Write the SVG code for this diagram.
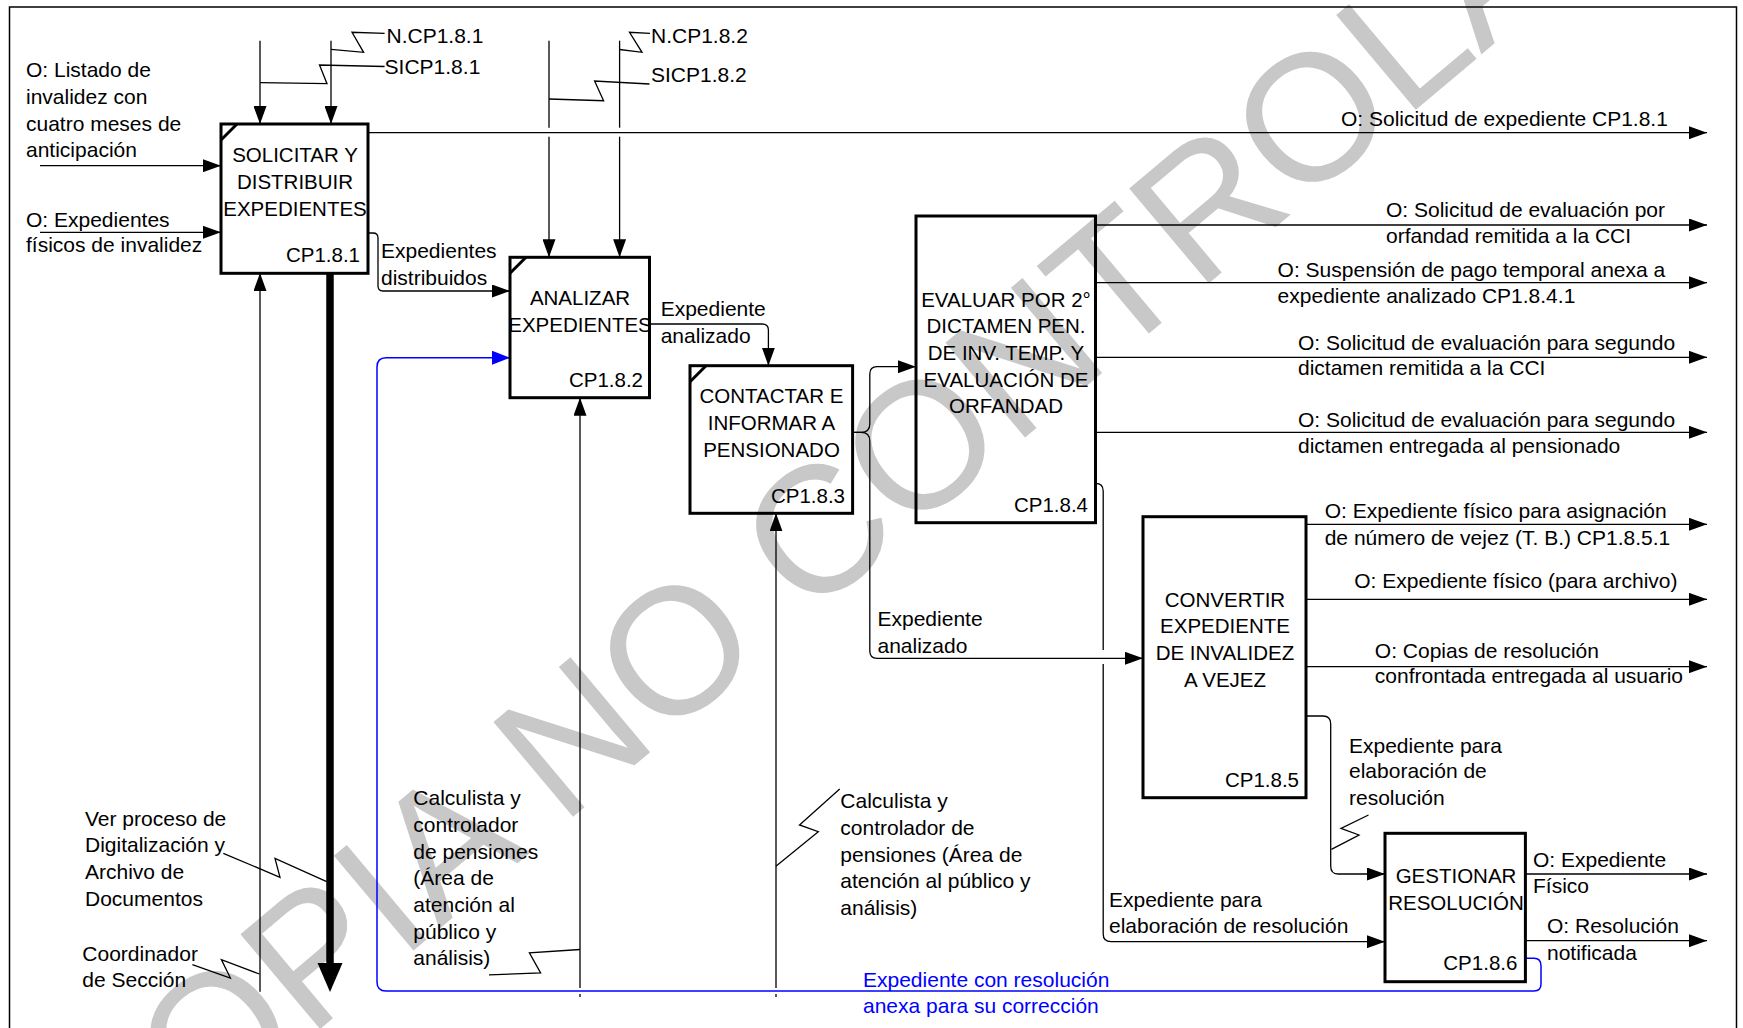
<svg xmlns="http://www.w3.org/2000/svg" width="1743" height="1028" viewBox="0 0 1743 1028">
<defs>
<style>
.box{fill:none;stroke:#000;stroke-width:3}
.tick{fill:none;stroke:#000;stroke-width:3}
.ln{fill:none;stroke:#000;stroke-width:1.3}
.arr{marker-end:url(#ah)}
.blue{fill:none;stroke:#0000ff;stroke-width:1.5;marker-end:url(#ahb)}
text{font-family:"Liberation Sans",Arial,sans-serif;font-size:21px;fill:#000}
.bt{font-size:20.5px;text-anchor:middle}
.id{font-size:20.5px;text-anchor:end}
.bl{fill:#0000ff}
.wm{font-size:180px;fill:#c8c8c8}
</style>
<marker id="ah" markerUnits="userSpaceOnUse" markerWidth="18" markerHeight="13" refX="18" refY="6.5" orient="auto" viewBox="0 0 18 13"><path d="M0,0 L18,6.5 L0,13 z" fill="#000"/></marker>
<marker id="ahb" markerUnits="userSpaceOnUse" markerWidth="18" markerHeight="14" refX="18" refY="7" orient="auto" viewBox="0 0 18 14"><path d="M0,0 L18,7 L0,14 z" fill="#0000ff"/></marker>
</defs>
<rect width="1743" height="1028" fill="#fff"/>
<text class="wm" x="102" y="1212" transform="rotate(-40 102 1212)">COPIA NO CONTROLADA</text>
<path d="M9.5,1030 V7 H1736.5 V1030" fill="none" stroke="#000" stroke-width="1.5"/>

<g id="connectors">
<path class="ln arr" d="M40,165.7 H221"/>
<path class="ln arr" d="M40,232.3 H221"/>
<path class="ln arr" d="M260,40.7 V124"/>
<path class="ln arr" d="M331,40.7 V124"/>
<path class="ln" d="M260,82.7 L327,83.7 L319.5,65 L384.6,66.5"/>
<path class="ln" d="M331,49.3 L363.6,52.3 L352,32.3 L384.6,33.3"/>
<path class="ln arr" d="M368,132.7 H1707"/>
<path class="ln arr" d="M368,233 H373 Q378,233 378,238 V286 Q378,291 383,291 H510"/>
<path class="ln" d="M549,40.7 V127.7"/>
<path class="ln arr" d="M549,136.7 V257.3"/>
<path class="ln" d="M619.6,40.7 V127.7"/>
<path class="ln arr" d="M619.6,136.7 V257.3"/>
<path class="ln" d="M619.6,49.5 L642,52.3 L629.5,32.3 L650,33.3"/>
<path class="ln" d="M549,99 L603.6,100.7 L594.6,81 L649.5,84"/>
<path class="ln arr" d="M260,991.7 V273"/>
<path d="M330,273 V965" stroke="#000" stroke-width="7.5" fill="none"/>
<path d="M317.5,963 L342.5,963 L330,992 z" fill="#000"/>
<path class="ln" d="M223.3,853.3 L280,877.3 L275,858.3 L326.7,881.7"/>
<path class="ln" d="M192.4,964.6 L230.4,978 L221.4,959.6 L259.4,974"/>
<path class="ln" d="M580,997 V994"/>
<path class="ln arr" d="M580,988 V397.7"/>
<path class="ln" d="M489,974.8 L540.6,973 L529.4,952.9 L580,949.5"/>
<path class="ln arr" d="M649.5,324 H762 Q768.4,324 768.4,330 V365.7"/>
<path class="ln" d="M776,997 V994"/>
<path class="ln arr" d="M776,988 V513.3"/>
<path class="ln" d="M839.7,788.9 L799.5,824.9 L818.3,831.7 L775.9,866.3"/>
<path class="ln arr" d="M852.6,432.3 H861 Q869.8,432.3 869.8,424 V374 Q869.8,366.7 877,366.7 H916"/>
<path class="ln arr" d="M852.6,432.3 H861 Q869.8,432.3 869.8,441 V651 Q869.8,658.3 877,658.3 H1143"/>
<path class="ln arr" d="M1095.5,225 H1707"/>
<path class="ln arr" d="M1095.5,282.7 H1707"/>
<path class="ln arr" d="M1095.5,357.3 H1707"/>
<path class="ln arr" d="M1095.5,432.3 H1707"/>
<path class="ln" d="M1095.5,483.3 Q1103.2,483.3 1103.2,491 V650"/>
<path class="ln arr" d="M1103.2,664 V934 Q1103.2,941.7 1111,941.7 H1385"/>
<path class="ln arr" d="M1306,524.3 H1707"/>
<path class="ln arr" d="M1306,599.3 H1707"/>
<path class="ln arr" d="M1306,666.7 H1707"/>
<path class="ln arr" d="M1306,716 H1323 Q1330.7,716 1330.7,724 V866 Q1330.7,874 1338,874 H1385"/>
<path class="ln" d="M1368.5,815 L1341,828.3 L1359,835 L1331.4,849.3"/>
<path class="ln arr" d="M1525.4,874 H1707"/>
<path class="ln arr" d="M1525.4,940.7 H1707"/>
<path class="blue" d="M1525.4,958.3 H1534 Q1541,958.3 1541,966 V984 Q1541,991 1534,991 H386 Q377,991 377,982 V367 Q377,357.7 386,357.7 H510"/>
</g>

<g id="labels">
<text x="26" y="77.3">O: Listado de</text>
<text x="26" y="104">invalidez con</text>
<text x="26" y="130.7">cuatro meses de</text>
<text x="26" y="157">anticipación</text>
<text x="26" y="226.5">O: Expedientes</text>
<text x="26" y="251.5">físicos de invalidez</text>
<text x="386.5" y="43.3">N.CP1.8.1</text>
<text x="384.6" y="74">SICP1.8.1</text>
<text x="651" y="43.3">N.CP1.8.2</text>
<text x="651" y="82">SICP1.8.2</text>
<text x="1341" y="125.5">O: Solicitud de expediente CP1.8.1</text>
<text x="381" y="258.3">Expedientes</text>
<text x="381" y="285">distribuidos</text>
<text x="660.7" y="316">Expediente</text>
<text x="660.7" y="343.3">analizado</text>
<text x="1386" y="216.7">O: Solicitud de evaluación por</text>
<text x="1386" y="243.3">orfandad remitida a la CCI</text>
<text x="1277.6" y="276.7">O: Suspensión de pago temporal anexa a</text>
<text x="1277.6" y="303.3">expediente analizado CP1.8.4.1</text>
<text x="1298" y="350">O: Solicitud de evaluación para segundo</text>
<text x="1298" y="375">dictamen remitida a la CCI</text>
<text x="1298" y="426.7">O: Solicitud de evaluación para segundo</text>
<text x="1298" y="452.7">dictamen entregada al pensionado</text>
<text x="1324.7" y="518.3">O: Expediente físico para asignación</text>
<text x="1324.7" y="545">de número de vejez (T. B.) CP1.8.5.1</text>
<text x="1354.2" y="588.3">O: Expediente físico (para archivo)</text>
<text x="1374.8" y="658.3">O: Copias de resolución</text>
<text x="1374.8" y="683.3">confrontada entregada al usuario</text>
<text x="877.5" y="626">Expediente</text>
<text x="877.5" y="652.7">analizado</text>
<text x="1349" y="752.7">Expediente para</text>
<text x="1349" y="778.3">elaboración de</text>
<text x="1349" y="805">resolución</text>
<text x="1109" y="906.7">Expediente para</text>
<text x="1109" y="933.3">elaboración de resolución</text>
<text x="1533" y="867.3">O: Expediente</text>
<text x="1533" y="893.3">Físico</text>
<text x="1547" y="933.3">O: Resolución</text>
<text x="1547" y="960">notificada</text>
<text x="85" y="825.7">Ver proceso de</text>
<text x="85" y="852.3">Digitalización y</text>
<text x="85" y="879">Archivo de</text>
<text x="85" y="905.5">Documentos</text>
<text x="82.3" y="960.7">Coordinador</text>
<text x="82.3" y="987.3">de Sección</text>
<text x="413.3" y="805.3">Calculista y</text>
<text x="413.3" y="832">controlador</text>
<text x="413.3" y="858.7">de pensiones</text>
<text x="413.3" y="885.3">(Área de</text>
<text x="413.3" y="912">atención al</text>
<text x="413.3" y="938.7">público y</text>
<text x="413.3" y="965.3">análisis)</text>
<text x="840.3" y="808.3">Calculista y</text>
<text x="840.3" y="835">controlador de</text>
<text x="840.3" y="861.7">pensiones (Área de</text>
<text x="840.3" y="888.3">atención al público y</text>
<text x="840.3" y="915">análisis)</text>
<text class="bl" x="863" y="986.7">Expediente con resolución</text>
<text class="bl" x="863" y="1013">anexa para su corrección</text>
</g>

<g id="node-cp181">
<rect class="box" x="221" y="124" width="147" height="149.3"/>
<path class="tick" d="M221,140 L237,124"/>
<text class="bt" x="295" y="162">SOLICITAR Y</text>
<text class="bt" x="295" y="189">DISTRIBUIR</text>
<text class="bt" x="295" y="216">EXPEDIENTES</text>
<text class="id" x="360" y="261.7">CP1.8.1</text>
</g>
<g id="node-cp182">
<rect class="box" x="510" y="257.3" width="139.5" height="140.4"/>
<path class="tick" d="M510,273.3 L526,257.3"/>
<text class="bt" x="580" y="305">ANALIZAR</text>
<text class="bt" x="580" y="331.7">EXPEDIENTES</text>
<text class="id" x="643" y="386.7">CP1.8.2</text>
</g>
<g id="node-cp183">
<rect class="box" x="690" y="365.7" width="162.6" height="147.6"/>
<path class="tick" d="M690,381.7 L706,365.7"/>
<text class="bt" x="771.5" y="403.3">CONTACTAR E</text>
<text class="bt" x="771.5" y="430">INFORMAR A</text>
<text class="bt" x="771.5" y="456.7">PENSIONADO</text>
<text class="id" x="845" y="503.3">CP1.8.3</text>
</g>
<g id="node-cp184">
<rect class="box" x="916" y="216" width="179.5" height="306.7"/>
<text class="bt" x="1006" y="306.7">EVALUAR POR 2°</text>
<text class="bt" x="1006" y="333.3">DICTAMEN PEN.</text>
<text class="bt" x="1006" y="360">DE INV. TEMP. Y</text>
<text class="bt" x="1006" y="386.7">EVALUACIÓN DE</text>
<text class="bt" x="1006" y="413.3">ORFANDAD</text>
<text class="id" x="1088" y="511.7">CP1.8.4</text>
</g>
<g id="node-cp185">
<rect class="box" x="1143" y="516.7" width="163" height="281"/>
<text class="bt" x="1225" y="606.7">CONVERTIR</text>
<text class="bt" x="1225" y="633.3">EXPEDIENTE</text>
<text class="bt" x="1225" y="660">DE INVALIDEZ</text>
<text class="bt" x="1225" y="686.7">A VEJEZ</text>
<text class="id" x="1299" y="787.3">CP1.8.5</text>
</g>
<g id="node-cp186">
<rect class="box" x="1385" y="833.3" width="140.4" height="148.4"/>
<text class="bt" x="1456" y="883.3">GESTIONAR</text>
<text class="bt" x="1456" y="910">RESOLUCIÓN</text>
<text class="id" x="1517.4" y="970">CP1.8.6</text>
</g>
</svg>
